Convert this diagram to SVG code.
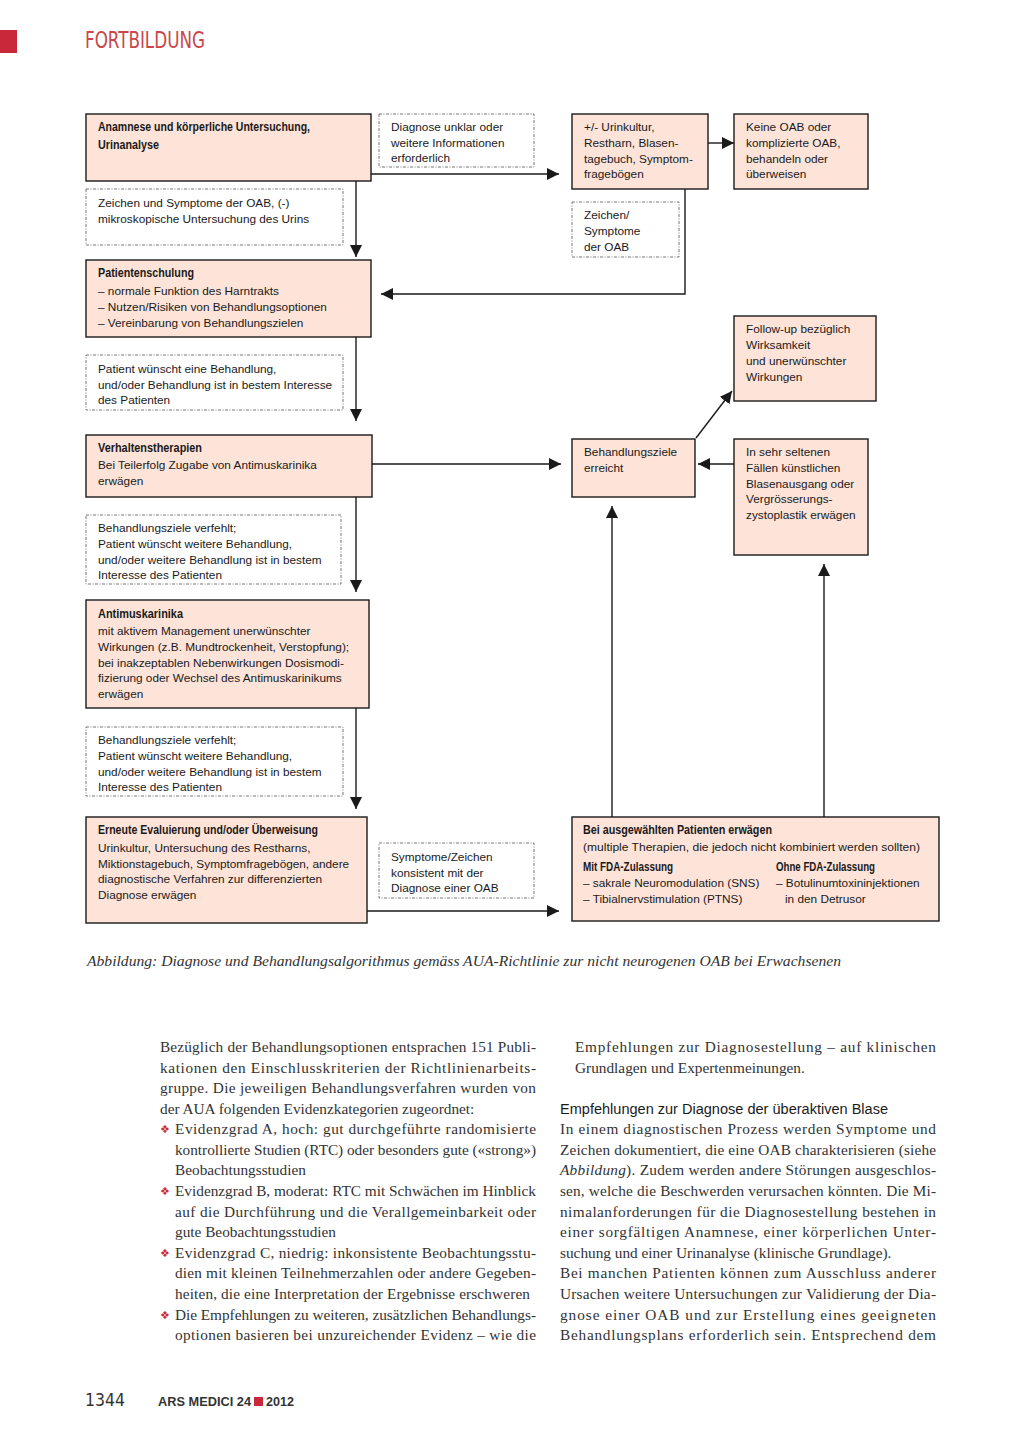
<svg xmlns="http://www.w3.org/2000/svg" width="1024" height="1448" viewBox="0 0 1024 1448">
<style>
.box{fill:#fde3d8;stroke:#1a1a1a;stroke-width:1.4}
.dash{fill:#fff;stroke:#666;stroke-width:0.9;stroke-dasharray:3 1.5 1 1.5}
.t{font-family:"Liberation Sans",Arial,sans-serif;font-size:11.8px;fill:#1a1a1a}
.b{font-family:"Liberation Sans",Arial,sans-serif;font-size:12.5px;font-weight:bold;fill:#1a1a1a}
.con{fill:none;stroke:#1a1a1a;stroke-width:1.4}
.body{font-family:"Liberation Serif","Times New Roman",serif;font-size:15.3px;fill:#333}
.bul{font-family:"DejaVu Sans",sans-serif;font-size:11px;fill:#c8283a}
</style>
<defs>
<marker id="ah" markerUnits="userSpaceOnUse" markerWidth="12" markerHeight="12" refX="12" refY="6" orient="auto" viewBox="0 0 12 12">
<path d="M0,0 L12,6 L0,12 z" fill="#1a1a1a"/>
</marker>
</defs>
<rect width="1024" height="1448" fill="#fff"/>

<!-- header -->
<rect x="0" y="30" width="17" height="23" fill="#c8283a"/>
<text x="85" y="48" font-family="DejaVu Sans Condensed,'DejaVu Sans',sans-serif" font-size="23" fill="#c9474a" textLength="120" lengthAdjust="spacingAndGlyphs">FORTBILDUNG</text>

<!-- connectors -->
<g id="connectors">
<line class="con" x1="371" y1="174" x2="559" y2="174" marker-end="url(#ah)"/>
<line class="con" x1="708" y1="143" x2="734" y2="143" marker-end="url(#ah)"/>
<polyline class="con" points="685,189 685,294 381,294" marker-end="url(#ah)"/>
<line class="con" x1="356" y1="181" x2="356" y2="257" marker-end="url(#ah)"/>
<line class="con" x1="356" y1="337" x2="356" y2="421" marker-end="url(#ah)"/>
<line class="con" x1="372" y1="464" x2="561" y2="464" marker-end="url(#ah)"/>
<line class="con" x1="696" y1="438" x2="732" y2="391" marker-end="url(#ah)"/>
<line class="con" x1="734" y1="464" x2="698" y2="464" marker-end="url(#ah)"/>
<line class="con" x1="356" y1="497" x2="356" y2="592" marker-end="url(#ah)"/>
<line class="con" x1="356" y1="708" x2="356" y2="809" marker-end="url(#ah)"/>
<line class="con" x1="367" y1="911" x2="559" y2="911" marker-end="url(#ah)"/>
<line class="con" x1="612" y1="817" x2="612" y2="506" marker-end="url(#ah)"/>
<line class="con" x1="824" y1="817" x2="824" y2="564" marker-end="url(#ah)"/>
</g>

<g id="n-anamnese">
<rect class="box" x="86" y="114" width="285" height="67"/>
<text class="b" x="98" y="131" textLength="212" lengthAdjust="spacingAndGlyphs">Anamnese und körperliche Untersuchung,</text>
<text class="b" x="98" y="149" textLength="61" lengthAdjust="spacingAndGlyphs">Urinanalyse</text>
</g>
<g id="n-unklar">
<rect class="dash" x="379" y="114" width="155" height="53"/>
<text class="t" x="391" y="131">Diagnose unklar oder</text>
<text class="t" x="391" y="147">weitere Informationen</text>
<text class="t" x="391" y="162">erforderlich</text>
</g>
<g id="n-urinkultur">
<rect class="box" x="572" y="114" width="136" height="75"/>
<text class="t" x="584" y="131">+/- Urinkultur,</text>
<text class="t" x="584" y="147">Restharn, Blasen-</text>
<text class="t" x="584" y="163">tagebuch, Symptom-</text>
<text class="t" x="584" y="178">fragebögen</text>
</g>
<g id="n-keine">
<rect class="box" x="734" y="114" width="134" height="75"/>
<text class="t" x="746" y="131">Keine OAB oder</text>
<text class="t" x="746" y="147">komplizierte OAB,</text>
<text class="t" x="746" y="163">behandeln oder</text>
<text class="t" x="746" y="178">überweisen</text>
</g>
<g id="n-zeichen-oab">
<rect class="dash" x="572" y="202" width="107" height="55"/>
<text class="t" x="584" y="219">Zeichen/</text>
<text class="t" x="584" y="235">Symptome</text>
<text class="t" x="584" y="251">der OAB</text>
</g>
<g id="n-zeichen">
<rect class="dash" x="86" y="189" width="257" height="56"/>
<text class="t" x="98" y="207">Zeichen und Symptome der OAB, (-)</text>
<text class="t" x="98" y="223">mikroskopische Untersuchung des Urins</text>
</g>
<g id="n-schulung">
<rect class="box" x="86" y="260" width="285" height="77"/>
<text class="b" x="98" y="277" textLength="96" lengthAdjust="spacingAndGlyphs">Patientenschulung</text>
<text class="t" x="98" y="295">– normale Funktion des Harntrakts</text>
<text class="t" x="98" y="311">– Nutzen/Risiken von Behandlungsoptionen</text>
<text class="t" x="98" y="327">– Vereinbarung von Behandlungszielen</text>
</g>
<g id="n-wunsch">
<rect class="dash" x="86" y="355" width="257" height="55"/>
<text class="t" x="98" y="373">Patient wünscht eine Behandlung,</text>
<text class="t" x="98" y="389">und/oder Behandlung ist in bestem Interesse</text>
<text class="t" x="98" y="404">des Patienten</text>
</g>
<g id="n-verhalten">
<rect class="box" x="86" y="435" width="286" height="62"/>
<text class="b" x="98" y="452" textLength="104" lengthAdjust="spacingAndGlyphs">Verhaltenstherapien</text>
<text class="t" x="98" y="469">Bei Teilerfolg Zugabe von Antimuskarinika</text>
<text class="t" x="98" y="485">erwägen</text>
</g>
<g id="n-erreicht">
<rect class="box" x="572" y="439" width="123" height="58"/>
<text class="t" x="584" y="456">Behandlungsziele</text>
<text class="t" x="584" y="472">erreicht</text>
</g>
<g id="n-followup">
<rect class="box" x="734" y="316" width="142" height="85"/>
<text class="t" x="746" y="333">Follow-up bezüglich</text>
<text class="t" x="746" y="349">Wirksamkeit</text>
<text class="t" x="746" y="365">und unerwünschter</text>
<text class="t" x="746" y="381">Wirkungen</text>
</g>
<g id="n-selten">
<rect class="box" x="734" y="439" width="134" height="116"/>
<text class="t" x="746" y="456">In sehr seltenen</text>
<text class="t" x="746" y="472">Fällen künstlichen</text>
<text class="t" x="746" y="488">Blasenausgang oder</text>
<text class="t" x="746" y="503">Vergrösserungs-</text>
<text class="t" x="746" y="519">zystoplastik erwägen</text>
</g>
<g id="n-verfehlt1">
<rect class="dash" x="86" y="515" width="255" height="69"/>
<text class="t" x="98" y="532">Behandlungsziele verfehlt;</text>
<text class="t" x="98" y="548">Patient wünscht weitere Behandlung,</text>
<text class="t" x="98" y="564">und/oder weitere Behandlung ist in bestem</text>
<text class="t" x="98" y="579">Interesse des Patienten</text>
</g>
<g id="n-antimusk">
<rect class="box" x="86" y="600" width="283" height="108"/>
<text class="b" x="98" y="618" textLength="85" lengthAdjust="spacingAndGlyphs">Antimuskarinika</text>
<text class="t" x="98" y="635">mit aktivem Management unerwünschter</text>
<text class="t" x="98" y="651">Wirkungen (z.B. Mundtrockenheit, Verstopfung);</text>
<text class="t" x="98" y="667">bei inakzeptablen Nebenwirkungen Dosismodi-</text>
<text class="t" x="98" y="682">fizierung oder Wechsel des Antimuskarinikums</text>
<text class="t" x="98" y="698">erwägen</text>
</g>
<g id="n-verfehlt2">
<rect class="dash" x="86" y="727" width="257" height="69"/>
<text class="t" x="98" y="744">Behandlungsziele verfehlt;</text>
<text class="t" x="98" y="760">Patient wünscht weitere Behandlung,</text>
<text class="t" x="98" y="776">und/oder weitere Behandlung ist in bestem</text>
<text class="t" x="98" y="791">Interesse des Patienten</text>
</g>
<g id="n-erneut">
<rect class="box" x="86" y="817" width="281" height="106"/>
<text class="b" x="98" y="834" textLength="220" lengthAdjust="spacingAndGlyphs">Erneute Evaluierung und/oder Überweisung</text>
<text class="t" x="98" y="852">Urinkultur, Untersuchung des Restharns,</text>
<text class="t" x="98" y="868">Miktionstagebuch, Symptomfragebögen, andere</text>
<text class="t" x="98" y="883">diagnostische Verfahren zur differenzierten</text>
<text class="t" x="98" y="899">Diagnose erwägen</text>
</g>
<g id="n-konsistent">
<rect class="dash" x="379" y="843" width="155" height="55"/>
<text class="t" x="391" y="861">Symptome/Zeichen</text>
<text class="t" x="391" y="877">konsistent mit der</text>
<text class="t" x="391" y="892">Diagnose einer OAB</text>
</g>
<g id="n-ausgewaehlt">
<rect class="box" x="572" y="817" width="367" height="104"/>
<text class="b" x="583" y="834" textLength="189" lengthAdjust="spacingAndGlyphs">Bei ausgewählten Patienten erwägen</text>
<text class="t" x="583" y="851" textLength="337" lengthAdjust="spacingAndGlyphs">(multiple Therapien, die jedoch nicht kombiniert werden sollten)</text>
<text class="b" x="583" y="871" textLength="90" lengthAdjust="spacingAndGlyphs">Mit FDA-Zulassung</text>
<text class="b" x="776" y="871" textLength="99" lengthAdjust="spacingAndGlyphs">Ohne FDA-Zulassung</text>
<text class="t" x="583" y="887">– sakrale Neuromodulation (SNS)</text>
<text class="t" x="776" y="887">– Botulinumtoxininjektionen</text>
<text class="t" x="583" y="903">– Tibialnervstimulation (PTNS)</text>
<text class="t" x="785" y="903">in den Detrusor</text>
</g>

<!-- caption -->
<text x="87" y="966" font-family="'Liberation Serif',serif" font-style="italic" font-size="15" fill="#333" textLength="754" lengthAdjust="spacingAndGlyphs">Abbildung: Diagnose und Behandlungsalgorithmus gemäss AUA-Richtlinie zur nicht neurogenen OAB bei Erwachsenen</text>

<!-- body left -->
<g>
<text class="body" x="160" y="1052" textLength="376" lengthAdjust="spacing">Bezüglich der Behandlungsoptionen entsprachen 151 Publi-</text>
<text class="body" x="160" y="1073" textLength="376" lengthAdjust="spacing">kationen den Einschlusskriterien der Richtlinienarbeits-</text>
<text class="body" x="160" y="1093" textLength="376" lengthAdjust="spacing">gruppe. Die jeweiligen Behandlungsverfahren wurden von</text>
<text class="body" x="160" y="1114">der AUA folgenden Evidenzkategorien zugeordnet:</text>
<text class="bul" x="160" y="1133">❖</text>
<text class="body" x="175" y="1134" textLength="361" lengthAdjust="spacing">Evidenzgrad A, hoch: gut durchgeführte randomisierte</text>
<text class="body" x="175" y="1155" textLength="361" lengthAdjust="spacing">kontrollierte Studien (RTC) oder besonders gute («strong»)</text>
<text class="body" x="175" y="1175">Beobachtungsstudien</text>
<text class="bul" x="160" y="1195">❖</text>
<text class="body" x="175" y="1196" textLength="361" lengthAdjust="spacing">Evidenzgrad B, moderat: RTC mit Schwächen im Hinblick</text>
<text class="body" x="175" y="1217" textLength="361" lengthAdjust="spacing">auf die Durchführung und die Verallgemeinbarkeit oder</text>
<text class="body" x="175" y="1237">gute Beobachtungsstudien</text>
<text class="bul" x="160" y="1257">❖</text>
<text class="body" x="175" y="1258" textLength="361" lengthAdjust="spacing">Evidenzgrad C, niedrig: inkonsistente Beobachtungsstu-</text>
<text class="body" x="175" y="1278" textLength="361" lengthAdjust="spacing">dien mit kleinen Teilnehmerzahlen oder andere Gegeben-</text>
<text class="body" x="175" y="1299" textLength="355" lengthAdjust="spacing">heiten, die eine Interpretation der Ergebnisse erschweren</text>
<text class="bul" x="160" y="1319">❖</text>
<text class="body" x="175" y="1320" textLength="361" lengthAdjust="spacing">Die Empfehlungen zu weiteren, zusätzlichen Behandlungs-</text>
<text class="body" x="175" y="1340" textLength="361" lengthAdjust="spacing">optionen basieren bei unzureichender Evidenz – wie die</text>
</g>

<!-- body right -->
<g>
<text class="body" x="575" y="1052" textLength="361" lengthAdjust="spacing">Empfehlungen zur Diagnosestellung – auf klinischen</text>
<text class="body" x="575" y="1073">Grundlagen und Expertenmeinungen.</text>
<text x="560" y="1114" font-family="'Liberation Sans',Arial,sans-serif" font-size="14" fill="#1a1a1a" textLength="328" lengthAdjust="spacingAndGlyphs">Empfehlungen zur Diagnose der überaktiven Blase</text>
<text class="body" x="560" y="1134" textLength="376" lengthAdjust="spacing">In einem diagnostischen Prozess werden Symptome und</text>
<text class="body" x="560" y="1155" textLength="376" lengthAdjust="spacing">Zeichen dokumentiert, die eine OAB charakterisieren (siehe</text>
<text class="body" x="560" y="1175" textLength="376" lengthAdjust="spacing"><tspan font-style="italic">Abbildung</tspan>). Zudem werden andere Störungen ausgeschlos-</text>
<text class="body" x="560" y="1196" textLength="376" lengthAdjust="spacing">sen, welche die Beschwerden verursachen könnten. Die Mi-</text>
<text class="body" x="560" y="1217" textLength="376" lengthAdjust="spacing">nimalanforderungen für die Diagnosestellung bestehen in</text>
<text class="body" x="560" y="1237" textLength="376" lengthAdjust="spacing">einer sorgfältigen Anamnese, einer körperlichen Unter-</text>
<text class="body" x="560" y="1258">suchung und einer Urinanalyse (klinische Grundlage).</text>
<text class="body" x="560" y="1278" textLength="376" lengthAdjust="spacing">Bei manchen Patienten können zum Ausschluss anderer</text>
<text class="body" x="560" y="1299" textLength="376" lengthAdjust="spacing">Ursachen weitere Untersuchungen zur Validierung der Dia-</text>
<text class="body" x="560" y="1320" textLength="376" lengthAdjust="spacing">gnose einer OAB und zur Erstellung eines geeigneten</text>
<text class="body" x="560" y="1340" textLength="376" lengthAdjust="spacing">Behandlungsplans erforderlich sein. Entsprechend dem</text>
</g>

<!-- footer -->
<text x="85" y="1406" font-family="'DejaVu Sans',sans-serif" font-size="18" fill="#333" textLength="40" lengthAdjust="spacingAndGlyphs">1344</text>
<text x="158" y="1406" font-family="'Liberation Sans',Arial,sans-serif" font-size="13" font-weight="bold" fill="#333" textLength="93" lengthAdjust="spacingAndGlyphs">ARS MEDICI 24</text>
<rect x="254" y="1397" width="9" height="9" fill="#c8283a"/>
<text x="266" y="1406" font-family="'Liberation Sans',Arial,sans-serif" font-size="13" font-weight="bold" fill="#333" textLength="28" lengthAdjust="spacingAndGlyphs">2012</text>
</svg>
